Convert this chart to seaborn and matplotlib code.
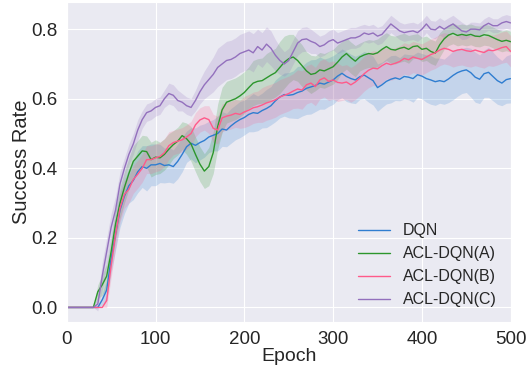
import numpy as np
import pandas as pd
import matplotlib
matplotlib.use('Agg')
import matplotlib.pyplot as plt
import seaborn as sns

# epochs sampled every 5
epochs = np.arange(0, 501, 5)

dqn = [0, 0, 0, 0, 0, 0, 0, 0, 0.022, 0.05,
       0.14, 0.21, 0.28, 0.32, 0.35, 0.365, 0.39, 0.405, 0.40, 0.41,
       0.41, 0.414, 0.408, 0.41, 0.405, 0.42, 0.44, 0.462, 0.472, 0.466,
       0.474, 0.48, 0.49, 0.495, 0.50, 0.513, 0.51, 0.522, 0.532, 0.54,
       0.546, 0.555, 0.56, 0.558, 0.566, 0.572, 0.58, 0.594, 0.605, 0.612,
       0.61, 0.612, 0.618, 0.622, 0.63, 0.634, 0.638, 0.645, 0.642, 0.648,
       0.654, 0.665, 0.673, 0.664, 0.658, 0.654, 0.663, 0.668, 0.66, 0.652,
       0.632, 0.64, 0.65, 0.656, 0.66, 0.656, 0.664, 0.662, 0.658, 0.669,
       0.665, 0.658, 0.654, 0.649, 0.652, 0.649, 0.657, 0.667, 0.675, 0.68,
       0.683, 0.675, 0.662, 0.656, 0.672, 0.676, 0.664, 0.652, 0.645, 0.655,
       0.658]
acl_a = [0, 0, 0, 0, 0, 0, 0, 0.045, 0.065, 0.09,
         0.16, 0.24, 0.30, 0.345, 0.385, 0.42, 0.435, 0.45, 0.448, 0.425,
         0.432, 0.43, 0.44, 0.455, 0.468, 0.478, 0.494, 0.485, 0.47, 0.44,
         0.412, 0.392, 0.405, 0.445, 0.52, 0.568, 0.59, 0.595, 0.60, 0.608,
         0.618, 0.632, 0.645, 0.65, 0.652, 0.66, 0.668, 0.675, 0.69, 0.705,
         0.715, 0.72, 0.71, 0.695, 0.68, 0.67, 0.673, 0.683, 0.68, 0.686,
         0.692, 0.705, 0.72, 0.73, 0.718, 0.708, 0.72, 0.726, 0.73, 0.728,
         0.732, 0.742, 0.75, 0.742, 0.74, 0.745, 0.748, 0.742, 0.75, 0.752,
         0.742, 0.745, 0.736, 0.731, 0.755, 0.772, 0.783, 0.788, 0.782, 0.785,
         0.782, 0.785, 0.78, 0.779, 0.784, 0.782, 0.776, 0.77, 0.765, 0.768,
         0.764]
acl_b = [0, 0, 0, 0, 0, 0, 0, 0, 0, 0.02,
         0.12, 0.21, 0.285, 0.325, 0.34, 0.368, 0.383, 0.40, 0.425, 0.425,
         0.43, 0.434, 0.445, 0.465, 0.474, 0.478, 0.482, 0.49, 0.50, 0.525,
         0.539, 0.545, 0.54, 0.515, 0.51, 0.545, 0.55, 0.553, 0.558, 0.555,
         0.562, 0.567, 0.574, 0.577, 0.582, 0.588, 0.592, 0.597, 0.605, 0.61,
         0.615, 0.622, 0.628, 0.625, 0.64, 0.645, 0.635, 0.654, 0.66, 0.65,
         0.654, 0.647, 0.645, 0.648, 0.64, 0.648, 0.659, 0.672, 0.682, 0.688,
         0.686, 0.695, 0.702, 0.698, 0.702, 0.707, 0.716, 0.712, 0.72, 0.716,
         0.713, 0.72, 0.727, 0.732, 0.74, 0.745, 0.742, 0.736, 0.74, 0.742,
         0.738, 0.736, 0.74, 0.736, 0.733, 0.74, 0.738, 0.742, 0.747, 0.75,
         0.736]
acl_c = [0, 0, 0, 0, 0, 0, 0, 0.01, 0.09, 0.16,
         0.23, 0.28, 0.355, 0.40, 0.44, 0.47, 0.51, 0.54, 0.56, 0.565,
         0.575, 0.58, 0.60, 0.615, 0.61, 0.595, 0.59, 0.58, 0.575, 0.595,
         0.62, 0.64, 0.655, 0.67, 0.69, 0.70, 0.71, 0.713, 0.72, 0.73,
         0.735, 0.74, 0.732, 0.75, 0.74, 0.757, 0.745, 0.725, 0.71, 0.70,
         0.71, 0.735, 0.76, 0.77, 0.772, 0.765, 0.76, 0.75, 0.755, 0.765,
         0.77, 0.76, 0.765, 0.77, 0.775, 0.775, 0.78, 0.789, 0.785, 0.789,
         0.78, 0.785, 0.80, 0.815, 0.805, 0.795, 0.79, 0.793, 0.795, 0.79,
         0.80, 0.815, 0.80, 0.798, 0.808, 0.80, 0.808, 0.815, 0.805, 0.795,
         0.792, 0.80, 0.80, 0.798, 0.81, 0.817, 0.81, 0.81, 0.818, 0.822,
         0.818]

# half-width of the shaded band
dqn_sd = [0, 0, 0, 0, 0, 0, 0, 0, 0.015, 0.03,
          0.04, 0.045, 0.05, 0.05, 0.05, 0.055, 0.06, 0.06, 0.065, 0.06,
          0.06, 0.055, 0.05, 0.05, 0.048, 0.05, 0.05, 0.045, 0.045, 0.05,
          0.05, 0.048, 0.045, 0.045, 0.05, 0.05, 0.048, 0.05, 0.05, 0.052,
          0.05, 0.05, 0.055, 0.05, 0.05, 0.055, 0.055, 0.06, 0.06, 0.062,
          0.065, 0.068, 0.075, 0.072, 0.075, 0.078, 0.075, 0.075, 0.072, 0.07,
          0.07, 0.068, 0.07, 0.072, 0.07, 0.068, 0.065, 0.068, 0.07, 0.07,
          0.068, 0.065, 0.065, 0.068, 0.065, 0.062, 0.065, 0.065, 0.068, 0.065,
          0.065, 0.068, 0.07, 0.068, 0.065, 0.065, 0.068, 0.07, 0.068, 0.065,
          0.065, 0.07, 0.072, 0.07, 0.068, 0.072, 0.07, 0.068, 0.065, 0.068,
          0.07]
acl_a_sd = [0, 0, 0, 0, 0, 0, 0, 0.02, 0.03, 0.035,
            0.04, 0.045, 0.045, 0.045, 0.045, 0.045, 0.045, 0.045, 0.045, 0.05,
            0.05, 0.045, 0.045, 0.045, 0.04, 0.04, 0.04, 0.045, 0.05, 0.05,
            0.05, 0.05, 0.055, 0.06, 0.065, 0.065, 0.06, 0.06, 0.06, 0.06,
            0.06, 0.06, 0.065, 0.065, 0.065, 0.07, 0.07, 0.07, 0.075, 0.075,
            0.07, 0.065, 0.06, 0.06, 0.055, 0.055, 0.05, 0.05, 0.05, 0.05,
            0.05, 0.05, 0.045, 0.045, 0.045, 0.045, 0.04, 0.04, 0.04, 0.04,
            0.04, 0.04, 0.04, 0.04, 0.04, 0.04, 0.04, 0.04, 0.035, 0.035,
            0.035, 0.035, 0.035, 0.035, 0.035, 0.03, 0.03, 0.03, 0.03, 0.03,
            0.03, 0.03, 0.03, 0.03, 0.03, 0.03, 0.03, 0.03, 0.03, 0.03,
            0.03]
acl_b_sd = [0, 0, 0, 0, 0, 0, 0, 0, 0, 0.02,
            0.035, 0.04, 0.04, 0.04, 0.04, 0.04, 0.04, 0.04, 0.04, 0.04,
            0.04, 0.04, 0.04, 0.04, 0.035, 0.035, 0.035, 0.035, 0.035, 0.035,
            0.035, 0.035, 0.04, 0.04, 0.04, 0.04, 0.04, 0.04, 0.04, 0.04,
            0.045, 0.045, 0.045, 0.045, 0.05, 0.05, 0.05, 0.05, 0.05, 0.05,
            0.05, 0.05, 0.055, 0.055, 0.055, 0.055, 0.055, 0.055, 0.055, 0.055,
            0.055, 0.055, 0.05, 0.05, 0.05, 0.05, 0.05, 0.05, 0.05, 0.05,
            0.05, 0.05, 0.045, 0.045, 0.045, 0.045, 0.045, 0.045, 0.045, 0.045,
            0.045, 0.045, 0.045, 0.045, 0.045, 0.045, 0.045, 0.045, 0.045, 0.045,
            0.045, 0.045, 0.045, 0.045, 0.045, 0.045, 0.045, 0.045, 0.045, 0.045,
            0.045]
acl_c_sd = [0, 0, 0, 0, 0, 0, 0, 0.02, 0.04, 0.04,
            0.04, 0.04, 0.035, 0.03, 0.03, 0.03, 0.03, 0.025, 0.025, 0.025,
            0.025, 0.025, 0.025, 0.03, 0.03, 0.03, 0.025, 0.025, 0.025, 0.03,
            0.035, 0.04, 0.045, 0.05, 0.055, 0.055, 0.055, 0.055, 0.055, 0.055,
            0.055, 0.055, 0.055, 0.05, 0.05, 0.05, 0.05, 0.045, 0.04, 0.035,
            0.035, 0.035, 0.035, 0.035, 0.035, 0.035, 0.03, 0.03, 0.03, 0.03,
            0.03, 0.03, 0.03, 0.03, 0.03, 0.03, 0.03, 0.025, 0.025, 0.025,
            0.025, 0.025, 0.025, 0.025, 0.025, 0.025, 0.025, 0.025, 0.025, 0.025,
            0.025, 0.025, 0.025, 0.025, 0.025, 0.025, 0.025, 0.025, 0.025, 0.025,
            0.02, 0.02, 0.02, 0.02, 0.02, 0.02, 0.02, 0.02, 0.02, 0.02,
            0.02]

labels = ['DQN', 'ACL-DQN(A)', 'ACL-DQN(B)', 'ACL-DQN(C)']
colors = ['#2f7dd0', '#2c962c', '#ff5a8a', '#9370bd']
means = [dqn, acl_a, acl_b, acl_c]
spreads = [dqn_sd, acl_a_sd, acl_b_sd, acl_c_sd]

rows = []
for lab, m, s in zip(labels, means, spreads):
    for e, v, w in zip(epochs, m, s):
        rows.append({'Epoch': e, 'Success Rate': v, 'sd': w, 'Method': lab})
df = pd.DataFrame(rows)

sns.set_style('darkgrid')
plt.rcParams['font.family'] = ['Liberation Sans', 'DejaVu Sans']

fig = plt.figure(figsize=(5.32, 3.68), dpi=100)
ax = fig.add_axes([0.1254, 0.1258, 0.8346, 0.8696])

# shaded bands first, lines on top
for lab, col in zip(labels, colors):
    sub = df[df['Method'] == lab]
    ax.fill_between(sub['Epoch'], sub['Success Rate'] - sub['sd'],
                    sub['Success Rate'] + sub['sd'], color=col, alpha=0.2, linewidth=0)

sns.lineplot(data=df, x='Epoch', y='Success Rate', hue='Method', hue_order=labels,
             palette=colors, linewidth=1.0, errorbar=None, ax=ax)

ax.set_xlim(0, 500)
ax.set_ylim(-0.041, 0.879)
ax.set_xticks([0, 100, 200, 300, 400, 500])
ax.set_yticks([0.0, 0.2, 0.4, 0.6, 0.8])
ax.tick_params(labelsize=13.5, pad=3)
ax.set_xlabel('Epoch', fontsize=14, labelpad=0)
ax.set_ylabel('Success Rate', fontsize=14.5, labelpad=0.5)
ax.legend(loc='lower right', frameon=False, fontsize=11.5)

plt.savefig('out.png', dpi=100)
plt.close()
